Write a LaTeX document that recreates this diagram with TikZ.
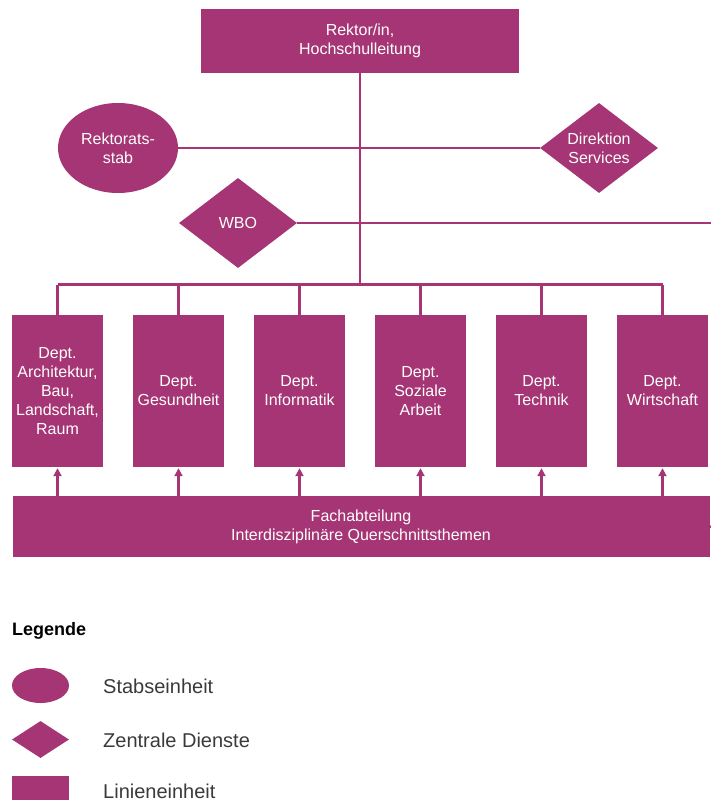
\documentclass[tikz,border=0pt]{standalone}
\usepackage{fontspec}
\setmainfont{Liberation Sans}
\usetikzlibrary{shapes.geometric,arrows.meta}
\definecolor{plum}{HTML}{A53574}
\definecolor{legtext}{HTML}{3A3A3A}
\begin{document}
\begin{tikzpicture}[x=1pt,y=-1pt,
  unit/.style={fill=plum,draw=none,text=white,align=center,inner sep=0pt,
    font=\fontsize{16}{19}\selectfont},
  boxunit/.style={unit,rectangle},
  ellunit/.style={unit,ellipse},
  diaunit/.style={unit,diamond},
  conn/.style={draw=plum,line width=2.5pt},
  arr/.style={draw=plum,line width=2.5pt,-{Triangle[length=8pt,width=8pt]}},
  legtxt/.style={anchor=base west,text=legtext,inner sep=0pt,font=\fontsize{20}{24}\selectfont}
]
\useasboundingbox (0,0) rectangle (711,800);

% main units
\node[boxunit,minimum width=318pt,minimum height=64pt] (top) at (360,41) {Rektor/in,\\Hochschulleitung};
\node[ellunit,minimum width=120pt,minimum height=90pt] (rs) at (118,148) {Rektorats-\\stab};
\node[diaunit,minimum width=118pt,minimum height=90pt] (dir) at (599,148) {};
\node[unit,fill=none] (dirt) at (dir.center) {Direktion\\Services};
\node[diaunit,minimum width=118pt,minimum height=90pt] (wbo) at (238,223) {};
\node[unit,fill=none] (wbot) at (wbo.center) {WBO};

% departments
\foreach \i/\x/\t in {1/57.5/{Dept.\\Architektur,\\Bau,\\Landschaft,\\Raum},
                     2/178.5/{Dept.\\Gesundheit},
                     3/299.5/{Dept.\\Informatik},
                     4/420.5/{Dept.\\Soziale\\Arbeit},
                     5/541.5/{Dept.\\Technik},
                     6/662.5/{Dept.\\Wirtschaft}}{
  \node[boxunit,minimum width=91pt,minimum height=152pt] (d\i) at (\x,391) {\t};
}

\node[boxunit,minimum width=697pt,minimum height=61pt] (fa) at (361,526.5) {Fachabteilung\\Interdisziplinäre Querschnittsthemen};

% connectors
\coordinate (bus) at (360,284.5);
\coordinate (wboend) at (711,223);
\coordinate (faend) at (711,527);
\draw[conn] (top.south) -- (bus);
\draw[conn] (rs.east) -- (dir.west);
\draw[conn] (wbo.east) -- (wboend);
\draw[conn] (d1.north |- bus) -- (d6.north |- bus);
\foreach \i in {1,...,6}{
  \draw[conn] (d\i.north |- bus) -- (d\i.north);
  \draw[arr,shorten >=1pt] (fa.north -| d\i) -- (d\i.south);
}
\draw[conn] (fa.east) -- (faend);

% legend
\node[anchor=west,inner sep=0pt,font=\fontsize{18}{22}\selectfont\bfseries] (leg) at (12,631) {Legende};
\node[ellipse,fill=plum,minimum width=57pt,minimum height=35pt,inner sep=0pt] (le) at (40.5,685.5) {};
\node[diamond,fill=plum,minimum width=57pt,minimum height=37pt,inner sep=0pt] (ld) at (40.5,739.5) {};
\node[rectangle,fill=plum,minimum width=57pt,minimum height=30pt,inner sep=0pt] (lr) at (40.5,791) {};
\node[legtxt] (let) at (103,693) {Stabseinheit};
\node[legtxt] (ldt) at (103,747) {Zentrale Dienste};
\node[legtxt] (lrt) at (103,798) {Linieneinheit};
\end{tikzpicture}
\end{document}
